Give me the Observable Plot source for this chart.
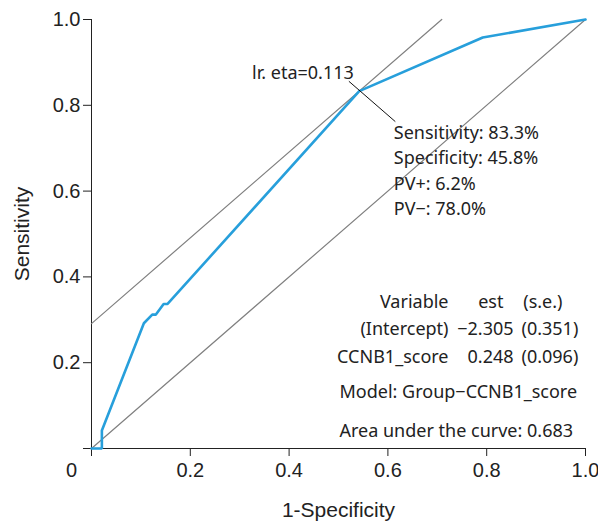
<!DOCTYPE html>
<html>
<head>
<meta charset="utf-8">
<script src="https://cdn.jsdelivr.net/npm/d3@7"></script>
<script src="https://cdn.jsdelivr.net/npm/@observablehq/plot@0.6"></script>
<style>
  html, body { margin: 0; padding: 0; background: #fff; }
</style>
</head>
<body>
<div id="chart"></div>
<script>
// ROC curve points (1-Specificity, Sensitivity)
const fpr = [0, 0.021, 0.021, 0.106, 0.123, 0.130, 0.146, 0.154, 0.542, 0.792, 1];
const tpr = [0, 0, 0.042, 0.292, 0.312, 0.312, 0.337, 0.337, 0.833, 0.958, 1];

// optimal cut-point
const optX = 0.542;
const optY = 0.833;
const cutLabel = "lr. eta=0.113";
const cutStats = ["Sensitivity: 83.3%", "Specificity: 45.8%", "PV+: 6.2%", "PV\u2212: 78.0%"];

// model table
const tableVars = ["(Intercept)", "CCNB1_score"];
const tableEst = ["\u22122.305", "0.248"];
const tableSE = ["(0.351)", "(0.096)"];
const modelText = "Model: Group\u2212CCNB1_score";
const aucText = "Area under the curve: 0.683";

const ticks = [0, 0.2, 0.4, 0.6, 0.8, 1.0];

const curve = fpr.map((x, i) => ({x, y: tpr[i]}));
const diag = [{x: 0, y: 0}, {x: 1, y: 1}];
const icpt = optY - optX;
const tangent = [{x: 0, y: icpt}, {x: 1 - icpt, y: 1}];

const annFont = "'Noto Sans', 'Open Sans', sans-serif";
const annSize = 18;
const ink = "#222";

const chart = Plot.plot({
  width: 598,
  height: 522,
  marginLeft: 91,
  marginRight: 13,
  marginTop: 19,
  marginBottom: 74,
  style: {fontFamily: "'Liberation Sans', Arial, sans-serif", color: ink, background: "#fff"},
  x: {domain: [0, 1]},
  y: {domain: [0, 1]},
  marks: [
    Plot.axisX({ticks, tickSize: 8, tickPadding: 6, fontSize: 20, label: null,
      tickFormat: d => d === 0 ? "" : d.toFixed(1), stroke: ink}),
    Plot.axisY({ticks, tickSize: 8, tickPadding: 3, fontSize: 20, label: null,
      tickFormat: d => d === 0 ? "" : d.toFixed(1), stroke: ink}),
    Plot.ruleX([0], {y1: 0, y2: 1, stroke: ink}),
    Plot.ruleY([0], {x1: 0, x2: 1, stroke: ink}),
    Plot.text(["0"], {x: 0, y: 0, text: d => d, dx: -20, dy: 22, fontSize: 20, fill: ink}),
    Plot.text(["1-Specificity"], {frameAnchor: "bottom", text: d => d, dy: 62, textAnchor: "middle", lineAnchor: "middle", fontSize: 21, fill: ink}),
    Plot.text(["Sensitivity"], {frameAnchor: "left", text: d => d, dx: -69, dy: 0, textAnchor: "middle", lineAnchor: "middle", rotate: -90, fontSize: 21, fill: ink}),
    Plot.line(diag, {x: "x", y: "y", stroke: "#808080", strokeWidth: 1.2}),
    Plot.line(tangent, {x: "x", y: "y", stroke: "#808080", strokeWidth: 1.2}),
    Plot.line(curve, {x: "x", y: "y", stroke: "#279fdb", strokeWidth: 2.6, strokeLinejoin: "miter", curve: "linear"}),
    // leader line through the optimal point
    Plot.link([0], {x1: optX - 0.021, y1: optY + 0.023, x2: optX + 0.073, y2: optY - 0.071, stroke: "#111", strokeWidth: 1}),
    Plot.text([cutLabel], {x: optX - 0.217, y: optY + 0.042, text: d => d, textAnchor: "start", fontSize: annSize, fontFamily: annFont, fill: ink}),
    Plot.text([cutStats.join("\n")], {x: optX + 0.07, y: 0.652, text: d => d, textAnchor: "start", lineHeight: 1.417, fontSize: annSize, fontFamily: annFont, fill: ink}),
    // table
    Plot.text(["Variable"], {x: 0.7227, y: 0.341, text: d => d, textAnchor: "end", fontSize: annSize, fontFamily: annFont, fill: ink}),
    Plot.text(["est"], {x: 0.834, y: 0.341, text: d => d, textAnchor: "end", fontSize: annSize, fontFamily: annFont, fill: ink}),
    Plot.text(["(s.e.)"], {x: 0.874, y: 0.341, text: d => d, textAnchor: "start", fontSize: annSize, fontFamily: annFont, fill: ink}),
    Plot.text(tableVars, {x: 0.7227, y: (d, i) => [0.277, 0.213][i], text: d => d, textAnchor: "end", fontSize: annSize, fontFamily: annFont, fill: ink}),
    Plot.text(tableEst, {x: 0.8543, y: (d, i) => [0.277, 0.213][i], text: d => d, textAnchor: "end", fontSize: annSize, fontFamily: annFont, fill: ink}),
    Plot.text(tableSE, {x: 0.8704, y: (d, i) => [0.277, 0.213][i], text: d => d, textAnchor: "start", fontSize: annSize, fontFamily: annFont, fill: ink}),
    Plot.text([modelText], {x: 0.502, y: 0.131, text: d => d, textAnchor: "start", fontSize: annSize, fontFamily: annFont, fill: ink}),
    Plot.text([aucText], {x: 0.502, y: 0.040, text: d => d, textAnchor: "start", fontSize: annSize, fontFamily: annFont, fill: ink})
  ]
});
document.getElementById("chart").appendChild(chart);
</script>
</body>
</html>
